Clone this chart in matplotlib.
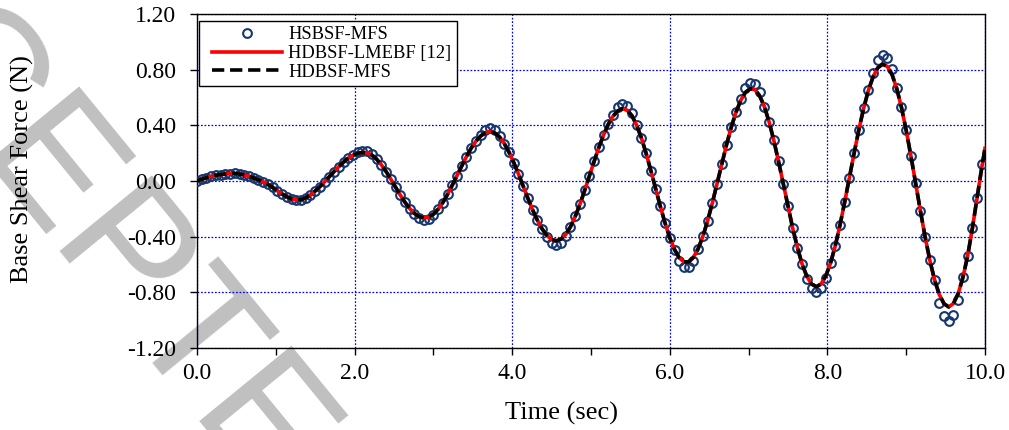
import numpy as np
import matplotlib
matplotlib.use("Agg")
import matplotlib.pyplot as plt
from matplotlib.ticker import FixedLocator, FuncFormatter
from matplotlib.lines import Line2D
from matplotlib.legend_handler import HandlerLine2D

plt.rcParams['font.family'] = ['Liberation Serif', 'DejaVu Serif']
plt.rcParams['axes.unicode_minus'] = False

# Sampling of the computed series (sec)
DT = 0.06

# HDBSF-LMEBF [12], one value every DT sec, last value at t = 10.0
hdbsf_lmebf = [
    0.000, 0.012, 0.024, 0.034, 0.041, 0.046, 0.050, 0.053, 0.054, 0.050,
    0.043, 0.034, 0.022, 0.008, -0.006, -0.024, -0.046, -0.070, -0.093, -0.113,
    -0.129, -0.137, -0.134, -0.121, -0.100, -0.072, -0.040, -0.005, 0.032, 0.068,
    0.103, 0.136, 0.164, 0.185, 0.199, 0.205, 0.202, 0.186, 0.157, 0.116,
    0.068, 0.013, -0.044, -0.101, -0.153, -0.198, -0.233, -0.256, -0.265, -0.259,
    -0.239, -0.203, -0.155, -0.096, -0.030, 0.039, 0.109, 0.176, 0.236, 0.286,
    0.323, 0.347, 0.355, 0.345, 0.316, 0.269, 0.207, 0.133, 0.050, -0.038,
    -0.125, -0.208, -0.282, -0.344, -0.391, -0.420, -0.430, -0.418, -0.384, -0.329,
    -0.255, -0.167, -0.068, 0.036, 0.141, 0.241, 0.331, 0.408, 0.466, 0.504,
    0.520, 0.509, 0.469, 0.401, 0.309, 0.198, 0.075, -0.054, -0.182, -0.302,
    -0.408, -0.492, -0.552, -0.581, -0.581, -0.549, -0.487, -0.398, -0.286, -0.158,
    -0.019, 0.123, 0.260, 0.386, 0.494, 0.579, 0.637, 0.663, 0.657, 0.613,
    0.535, 0.426, 0.292, 0.141, -0.020, -0.183, -0.339, -0.479, -0.598, -0.686,
    -0.741, -0.760, -0.740, -0.682, -0.590, -0.466, -0.317, -0.150, 0.025, 0.202,
    0.370, 0.522, 0.651, 0.749, 0.814, 0.839, 0.824, 0.766, 0.665, 0.529,
    0.364, 0.180, -0.016, -0.213, -0.401, -0.569, -0.710, -0.816, -0.882, -0.905,
    -0.880, -0.809, -0.693, -0.538, -0.340, -0.120, 0.100, 0.235,
]

# HDBSF-MFS lies on top of the red curve
hdbsf_mfs = list(hdbsf_lmebf)

# HSBSF-MFS (circles), one value every DT sec
hsbsf_mfs = [
    0.000, 0.012, 0.024, 0.034, 0.041, 0.046, 0.050, 0.053, 0.054, 0.050,
    0.043, 0.034, 0.022, 0.008, -0.006, -0.024, -0.046, -0.070, -0.093, -0.113,
    -0.129, -0.137, -0.134, -0.121, -0.100, -0.072, -0.040, -0.005, 0.032, 0.068,
    0.103, 0.136, 0.164, 0.188, 0.208, 0.217, 0.213, 0.193, 0.157, 0.116,
    0.068, 0.013, -0.044, -0.101, -0.153, -0.198, -0.238, -0.268, -0.280, -0.273,
    -0.247, -0.203, -0.155, -0.096, -0.030, 0.039, 0.109, 0.176, 0.236, 0.286,
    0.333, 0.367, 0.378, 0.365, 0.326, 0.269, 0.207, 0.133, 0.050, -0.038,
    -0.125, -0.208, -0.282, -0.344, -0.404, -0.446, -0.460, -0.444, -0.397, -0.329,
    -0.255, -0.167, -0.068, 0.036, 0.141, 0.241, 0.331, 0.408, 0.477, 0.530,
    0.552, 0.538, 0.486, 0.401, 0.309, 0.198, 0.075, -0.054, -0.182, -0.302,
    -0.408, -0.496, -0.576, -0.615, -0.615, -0.573, -0.491, -0.398, -0.286, -0.158,
    -0.019, 0.123, 0.260, 0.386, 0.494, 0.588, 0.667, 0.702, 0.695, 0.637,
    0.535, 0.426, 0.292, 0.141, -0.020, -0.183, -0.339, -0.479, -0.598, -0.701,
    -0.771, -0.795, -0.770, -0.697, -0.590, -0.466, -0.317, -0.150, 0.025, 0.202,
    0.370, 0.522, 0.651, 0.773, 0.871, 0.909, 0.887, 0.803, 0.665, 0.529,
    0.364, 0.180, -0.016, -0.213, -0.401, -0.569, -0.710, -0.880, -0.968, -1.005,
    -0.966, -0.853, -0.693, -0.538, -0.340, -0.120, 0.120,
]

t_circ = np.round(np.arange(len(hsbsf_mfs)) * DT, 2)
t_line = np.append(np.round(np.arange(len(hdbsf_lmebf) - 1) * DT, 2), 10.0)

x_major = [0, 2, 4, 6, 8, 10]
x_minor = [1, 3, 5, 7, 9]
y_ticks = [-1.2, -0.8, -0.4, 0.0, 0.4, 0.8, 1.2]

fig = plt.figure(figsize=(10.09, 4.30), dpi=100)
ax = fig.add_axes([0.1952, 0.1907, 0.7810, 0.7767])
ax.patch.set_alpha(0)

# faint watermark behind the chart (starts off the top-left corner)
fig.text(-0.251, 1.302, "ACCEPTED", rotation=-50.7, rotation_mode='anchor',
         ha='left', va='baseline', fontsize=124, color='#c0c0c0',
         family=['Liberation Sans', 'DejaVu Sans'], zorder=-5)

ax.plot(t_circ, hsbsf_mfs, linestyle='none', marker='o', markersize=6.3,
        markerfacecolor='none', markeredgecolor='#17376f', markeredgewidth=1.5,
        label='HSBSF-MFS', zorder=3)
ax.plot(t_line, hdbsf_lmebf, color='#ff0000', lw=2.6, label='HDBSF-LMEBF [12]', zorder=4)
ax.plot(t_line, hdbsf_mfs, color='black', lw=2.6, dashes=(3.4, 1.6),
        label='HDBSF-MFS', zorder=5)

ax.set_xlim(0, 10)
ax.set_ylim(-1.2, 1.2)
ax.xaxis.set_major_locator(FixedLocator(x_major))
ax.xaxis.set_minor_locator(FixedLocator(x_minor))
ax.yaxis.set_major_locator(FixedLocator(y_ticks))
ax.xaxis.set_major_formatter(FuncFormatter(lambda v, p: f"{v:.1f}"))
ax.yaxis.set_major_formatter(FuncFormatter(lambda v, p: f"{v:.2f}".replace("-0.00", "0.00")))

ax.grid(True, which='major', color='#0000ff', linestyle=(0, (1.4, 1.4)), linewidth=0.9)
ax.set_axisbelow(True)
for s in ax.spines.values():
    s.set_color('black')
    s.set_linewidth(1.0)

ax.xaxis.set_ticks_position('bottom')
ax.yaxis.set_ticks_position('left')
ax.tick_params(which='both', direction='out', length=5, width=1)
ax.tick_params(axis='y', labelsize=17, pad=10)
ax.tick_params(axis='x', labelsize=17, pad=6)

ax.set_xlabel("Time (sec)", fontsize=19)
ax.set_ylabel("Base Shear Force (N)", fontsize=19)
ax.xaxis.set_label_coords(0.462, -0.195)
ax.yaxis.set_label_coords(-0.221, 0.537)
ax.xaxis.label.set_va('center')
ax.yaxis.label.set_va('center')

leg = ax.legend(loc='upper left', bbox_to_anchor=(0.003, 0.980), borderaxespad=0,
                fontsize=13.3, handlelength=4.2, handletextpad=0.32, labelspacing=0.1,
                borderpad=0.3, numpoints=1, fancybox=False, framealpha=1,
                edgecolor='black', handler_map={Line2D: HandlerLine2D(xpad=0.38)})
leg.get_frame().set_linewidth(1.0)

fig.savefig("out.png", dpi=100)
